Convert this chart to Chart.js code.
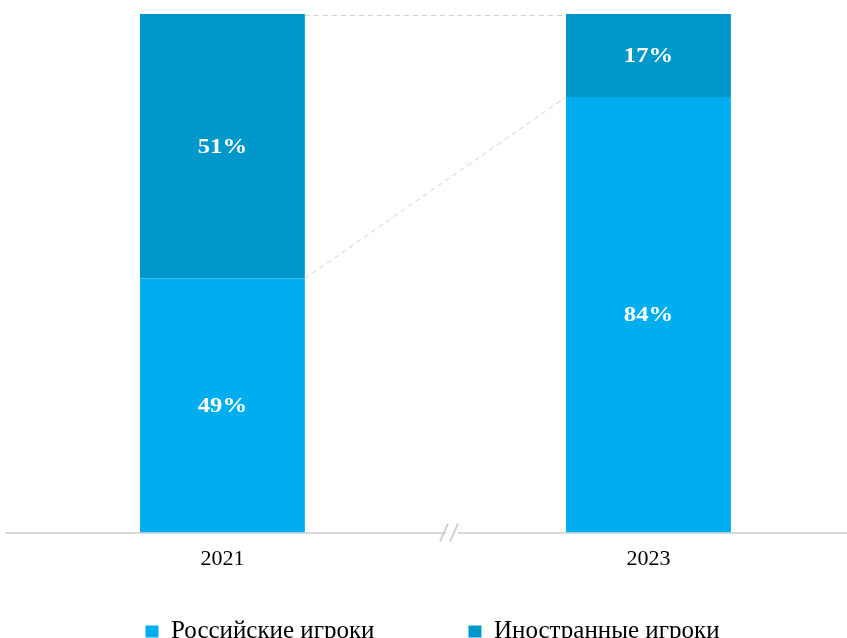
<!DOCTYPE html>
<html>
<head>
<meta charset="utf-8">
<script src="https://cdn.jsdelivr.net/npm/chart.js@4.4.1/dist/chart.umd.min.js"></script>
<style>
  html, body { margin: 0; padding: 0; background: #fff; overflow: hidden; }
  #wrap { width: 847px; height: 638px; overflow: hidden; }
</style>
</head>
<body>
<div id="wrap"><canvas id="chartDoli" width="847" height="654"></canvas></div>
<script>
// доли рынка
const years = ['2021', '2023'];
const rossiyskie = [49, 84];
const inostrannye = [51, 17];
const seriesNames = ['Российские игроки', 'Иностранные игроки'];

const colRos = '#00AEEF';
const colIno = '#0097CB';
const serif = '"Liberation Serif", "Times New Roman", serif';

// большой отступ между пунктами легенды не должен съедать высоту графика
const legendShift = 60;
const legendFix = {
  id: 'legendFix',
  afterInit(chart) {
    const lg = chart.legend;
    const fit0 = lg.fit.bind(lg);
    lg.fit = function () { fit0(); this.height -= legendShift; };
  },
  afterLayout(chart) {
    const lg = chart.legend;
    lg.top -= legendShift;
    lg.left += 6;
    lg.right += 6;
  }
};

// пунктирные линии, разрыв оси и подписи
const extras = {
  id: 'extras',
  afterDatasetsDraw(chart) {
    const ctx = chart.ctx;
    const x = chart.scales.x;
    const m0 = chart.getDatasetMeta(0), m1 = chart.getDatasetMeta(1);
    const b0 = m0.data[0], b1 = m0.data[1];
    const right0 = b0.x + b0.width / 2, left1 = b1.x - b1.width / 2;
    const area = chart.chartArea;

    ctx.save();
    ctx.strokeStyle = '#d0d0d0';
    ctx.lineWidth = 1;
    ctx.setLineDash([5, 4]);
    ctx.beginPath();
    ctx.moveTo(right0, area.top + 1.5);
    ctx.lineTo(left1, area.top + 1.5);
    ctx.moveTo(right0, b0.y);
    ctx.lineTo(left1, b1.y);
    ctx.stroke();
    ctx.restore();

    // разрыв оси
    const bx = 455, by = x.top;
    ctx.save();
    ctx.fillStyle = '#fff';
    ctx.fillRect(bx - 9, by - 3, 12, 6);
    ctx.strokeStyle = '#d0d0d0';
    ctx.lineWidth = 2;
    ctx.beginPath();
    ctx.moveTo(bx - 15, by + 9); ctx.lineTo(bx - 7, by - 9);
    ctx.moveTo(bx - 5, by + 9); ctx.lineTo(bx + 3, by - 9);
    ctx.stroke();
    ctx.restore();

    // подписи значений
    ctx.save();
    ctx.font = 'bold 22px ' + serif;
    ctx.fillStyle = '#fff';
    ctx.textAlign = 'center';
    ctx.textBaseline = 'middle';
    [m0, m1].forEach((meta, di) => {
      const vals = di === 0 ? rossiyskie : inostrannye;
      meta.data.forEach((bar, i) => {
        const top = Math.max(bar.y, area.top);
        const bot = Math.min(bar.base, area.bottom);
        ctx.save();
        ctx.translate(bar.x, (top + bot) / 2 + 1);
        ctx.scale(1.12, 1);
        ctx.fillText(vals[i] + '%', 0, 0);
        ctx.restore();
      });
    });
    ctx.restore();
  }
};

new Chart(document.getElementById('chartDoli').getContext('2d'), {
  type: 'bar',
  data: {
    datasets: [
      { label: seriesNames[0], data: rossiyskie.map((v, i) => ({ x: i, y: v })), backgroundColor: colRos },
      { label: seriesNames[1], data: inostrannye.map((v, i) => ({ x: i, y: v })), backgroundColor: colIno }
    ]
  },
  options: {
    responsive: false,
    animation: false,
    layout: { padding: { left: 6, right: 0, top: 14, bottom: 0 } },
    datasets: { bar: { barPercentage: 0.387, categoryPercentage: 1 } },
    scales: {
      x: {
        type: 'linear',
        offset: false,
        min: -0.508,
        max: 1.466,
        stacked: true,
        afterBuildTicks: s => { s.ticks = [{ value: 0 }, { value: 1 }]; },
        ticks: {
          callback: v => years[v],
          color: '#000',
          font: { family: serif, size: 22 },
          padding: 13,
          maxRotation: 0
        },
        grid: { display: false, drawTicks: false },
        border: { color: '#d9d9d9', width: 2 }
      },
      y: { stacked: true, min: 0, max: 100, display: false }
    },
    plugins: {
      legend: {
        position: 'bottom',
        labels: {
          color: '#000',
          font: { family: serif, size: 25 },
          boxWidth: 13,
          boxHeight: 12,
          padding: 94
        }
      },
      tooltip: { enabled: false }
    }
  },
  plugins: [legendFix, extras]
});
</script>
</body>
</html>
